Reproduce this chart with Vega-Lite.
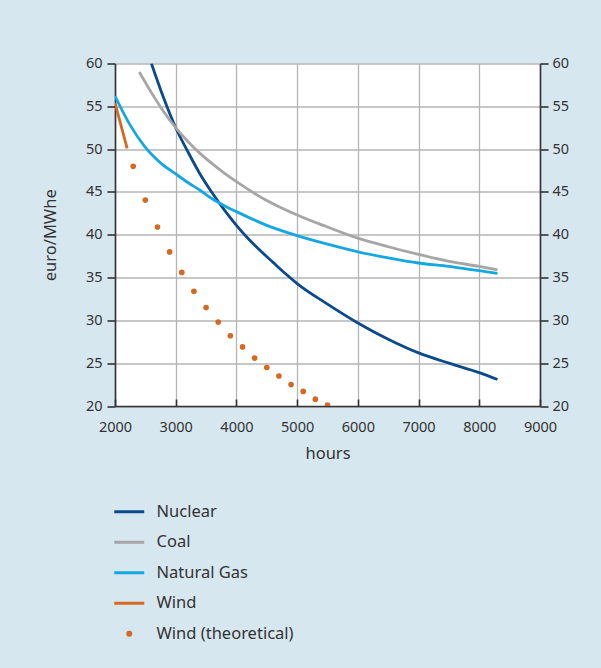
{
  "$schema": "https://vega.github.io/schema/vega-lite/v6.json",
  "autosize": "none",
  "width": 425,
  "height": 342.5,
  "padding": {"left": 115, "top": 63.5, "right": 61, "bottom": 262},
  "background": "#d7e7f0",
  "config": {
    "font": "Noto Sans",
    "view": {"fill": "white", "stroke": null},
    "axis": {
      "labelFont": "Noto Sans",
      "labelFontSize": 14.5,
      "labelColor": "#333333",
      "titleFont": "Noto Sans",
      "titleFontSize": 16.5,
      "titleFontWeight": "normal",
      "titleColor": "#333333",
      "gridColor": "#b4b4b4",
      "gridWidth": 1.3,
      "gridOpacity": 1,
      "domainColor": "#333333",
      "domainWidth": 1.6,
      "tickColor": "#333333",
      "tickWidth": 1.6,
      "labelFlush": false,
      "labelOverlap": false
    }
  },
  "layer": [
    {
      "data": {
        "values": [
          {"series": "Nuclear", "hours": 2600, "cost": 60.0},
          {"series": "Nuclear", "hours": 2800, "cost": 56.0},
          {"series": "Nuclear", "hours": 3000, "cost": 52.5},
          {"series": "Nuclear", "hours": 3200, "cost": 49.7},
          {"series": "Nuclear", "hours": 3400, "cost": 47.1},
          {"series": "Nuclear", "hours": 3600, "cost": 44.9},
          {"series": "Nuclear", "hours": 3800, "cost": 42.9},
          {"series": "Nuclear", "hours": 4000, "cost": 41.1},
          {"series": "Nuclear", "hours": 4200, "cost": 39.5},
          {"series": "Nuclear", "hours": 4400, "cost": 38.1},
          {"series": "Nuclear", "hours": 4600, "cost": 36.8},
          {"series": "Nuclear", "hours": 4800, "cost": 35.5},
          {"series": "Nuclear", "hours": 5000, "cost": 34.3},
          {"series": "Nuclear", "hours": 5500, "cost": 31.9},
          {"series": "Nuclear", "hours": 6000, "cost": 29.7},
          {"series": "Nuclear", "hours": 6500, "cost": 27.8},
          {"series": "Nuclear", "hours": 7000, "cost": 26.2},
          {"series": "Nuclear", "hours": 7500, "cost": 25.0},
          {"series": "Nuclear", "hours": 8000, "cost": 23.9},
          {"series": "Nuclear", "hours": 8300, "cost": 23.1},
          {"series": "Coal", "hours": 2400, "cost": 59.0},
          {"series": "Coal", "hours": 2600, "cost": 56.6},
          {"series": "Coal", "hours": 2800, "cost": 54.4},
          {"series": "Coal", "hours": 3000, "cost": 52.5},
          {"series": "Coal", "hours": 3200, "cost": 50.9},
          {"series": "Coal", "hours": 3400, "cost": 49.5},
          {"series": "Coal", "hours": 3600, "cost": 48.3},
          {"series": "Coal", "hours": 3800, "cost": 47.2},
          {"series": "Coal", "hours": 4000, "cost": 46.2},
          {"series": "Coal", "hours": 4500, "cost": 44.0},
          {"series": "Coal", "hours": 5000, "cost": 42.3},
          {"series": "Coal", "hours": 5500, "cost": 40.9},
          {"series": "Coal", "hours": 6000, "cost": 39.6},
          {"series": "Coal", "hours": 6500, "cost": 38.6},
          {"series": "Coal", "hours": 7000, "cost": 37.7},
          {"series": "Coal", "hours": 7500, "cost": 36.9},
          {"series": "Coal", "hours": 8000, "cost": 36.3},
          {"series": "Coal", "hours": 8300, "cost": 35.9},
          {"series": "Natural Gas", "hours": 2000, "cost": 56.2},
          {"series": "Natural Gas", "hours": 2250, "cost": 52.8},
          {"series": "Natural Gas", "hours": 2500, "cost": 50.2},
          {"series": "Natural Gas", "hours": 2750, "cost": 48.4},
          {"series": "Natural Gas", "hours": 3000, "cost": 47.1},
          {"series": "Natural Gas", "hours": 3200, "cost": 46.1},
          {"series": "Natural Gas", "hours": 3400, "cost": 45.2},
          {"series": "Natural Gas", "hours": 3600, "cost": 44.2},
          {"series": "Natural Gas", "hours": 3800, "cost": 43.4},
          {"series": "Natural Gas", "hours": 4000, "cost": 42.7},
          {"series": "Natural Gas", "hours": 4500, "cost": 41.1},
          {"series": "Natural Gas", "hours": 5000, "cost": 39.9},
          {"series": "Natural Gas", "hours": 5500, "cost": 38.9},
          {"series": "Natural Gas", "hours": 6000, "cost": 38.0},
          {"series": "Natural Gas", "hours": 6500, "cost": 37.3},
          {"series": "Natural Gas", "hours": 7000, "cost": 36.7},
          {"series": "Natural Gas", "hours": 7500, "cost": 36.3},
          {"series": "Natural Gas", "hours": 8000, "cost": 35.8},
          {"series": "Natural Gas", "hours": 8300, "cost": 35.5},
          {"series": "Wind", "hours": 2000, "cost": 55.4},
          {"series": "Wind", "hours": 2200, "cost": 50.1}
        ]
      },
      "mark": {"type": "line", "strokeWidth": 2.8, "interpolate": "monotone", "clip": true},
      "encoding": {
        "x": {
          "field": "hours", "type": "quantitative",
          "scale": {"domain": [2000, 9000], "nice": false},
          "axis": {
            "title": "hours",
            "values": [2000, 3000, 4000, 5000, 6000, 7000, 8000, 9000],
            "format": "d",
            "tickSize": -7,
            "labelPadding": 21,
            "titlePadding": 12
          }
        },
        "y": {
          "field": "cost", "type": "quantitative",
          "scale": {"domain": [20, 60], "nice": false, "zero": false},
          "axis": {
            "title": "euro/MWhe",
            "orient": "left",
            "values": [20, 25, 30, 35, 40, 45, 50, 55, 60],
            "tickSize": 8,
            "labelPadding": 5,
            "titlePadding": 27
          }
        },
        "color": {
          "field": "series", "type": "nominal",
          "scale": {
            "domain": ["Nuclear", "Coal", "Natural Gas", "Wind", "Wind (theoretical)"],
            "range": ["#0b4a8b", "#a6a6a6", "#14a8e3", "#d4691f", "#d4691f"]
          },
          "legend": {
            "title": null,
            "orient": "none",
            "legendX": 6,
            "legendY": 440,
            "padding": 0,
            "rowPadding": 13.5,
            "symbolType": "stroke",
            "symbolSize": 900,
            "symbolStrokeWidth": 3,
            "labelFont": "Noto Sans",
            "labelFontSize": 16.5,
            "labelColor": "#333333",
            "labelOffset": 19,
            "labelLimit": 300,
            "encode": {
              "symbols": {
                "update": {
                  "shape": {"signal": "datum.value === 'Wind (theoretical)' ? 'circle' : 'stroke'"},
                  "size": {"signal": "datum.value === 'Wind (theoretical)' ? 36 : 900"},
                  "fill": {"signal": "datum.value === 'Wind (theoretical)' ? '#d4691f' : 'transparent'"},
                  "strokeWidth": {"signal": "datum.value === 'Wind (theoretical)' ? 0 : 3"}
                }
              }
            }
          }
        }
      }
    },
    {
      "data": {
        "values": [
          {"series": "Wind (theoretical)", "hours": 2300, "cost": 48.0},
          {"series": "Wind (theoretical)", "hours": 2500, "cost": 44.05},
          {"series": "Wind (theoretical)", "hours": 2700, "cost": 40.9},
          {"series": "Wind (theoretical)", "hours": 2900, "cost": 38.0},
          {"series": "Wind (theoretical)", "hours": 3100, "cost": 35.6},
          {"series": "Wind (theoretical)", "hours": 3300, "cost": 33.4},
          {"series": "Wind (theoretical)", "hours": 3500, "cost": 31.5},
          {"series": "Wind (theoretical)", "hours": 3700, "cost": 29.8},
          {"series": "Wind (theoretical)", "hours": 3900, "cost": 28.2},
          {"series": "Wind (theoretical)", "hours": 4100, "cost": 26.9},
          {"series": "Wind (theoretical)", "hours": 4300, "cost": 25.6},
          {"series": "Wind (theoretical)", "hours": 4500, "cost": 24.5},
          {"series": "Wind (theoretical)", "hours": 4700, "cost": 23.5},
          {"series": "Wind (theoretical)", "hours": 4900, "cost": 22.5},
          {"series": "Wind (theoretical)", "hours": 5100, "cost": 21.7},
          {"series": "Wind (theoretical)", "hours": 5300, "cost": 20.8},
          {"series": "Wind (theoretical)", "hours": 5500, "cost": 20.1}
        ]
      },
      "mark": {"type": "point", "shape": "circle", "filled": true, "size": 32, "opacity": 1, "clip": true},
      "encoding": {
        "x": {"field": "hours", "type": "quantitative"},
        "y": {
          "field": "cost", "type": "quantitative",
          "axis": {
            "title": null,
            "orient": "right",
            "grid": false,
            "values": [20, 25, 30, 35, 40, 45, 50, 55, 60],
            "tickSize": 8,
            "labelPadding": 4
          }
        },
        "color": {"field": "series", "type": "nominal"}
      }
    }
  ],
  "resolve": {"axis": {"y": "independent"}}
}
